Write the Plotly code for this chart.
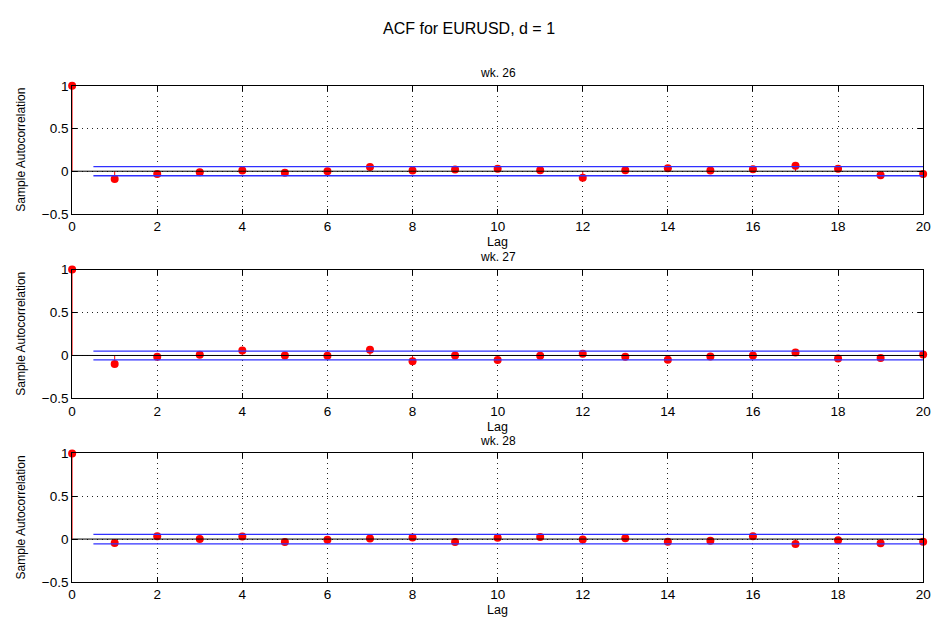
import plotly.graph_objects as go

W, H = 943, 628

lags = list(range(21))
titles = ["wk. 26", "wk. 27", "wk. 28"]
acf_wk26 = [1.0, -0.091, -0.034, -0.011, 0.008, -0.019, 0.0, 0.049, 0.008, 0.019,
            0.030, 0.011, -0.076, 0.011, 0.034, 0.008, 0.023, 0.065, 0.030, -0.046, -0.034]
acf_wk27 = [1.0, -0.099, -0.015, 0.008, 0.057, 0.0, -0.004, 0.068, -0.068, 0.0,
            -0.053, -0.004, 0.019, -0.015, -0.049, -0.011, 0.0, 0.034, -0.034, -0.030, 0.011]
acf_wk28 = [1.0, -0.046, 0.034, 0.0, 0.030, -0.034, -0.008, 0.008, 0.019, -0.034,
            0.015, 0.023, -0.004, 0.011, -0.030, -0.019, 0.034, -0.057, -0.015, -0.049, -0.030]
bounds = [0.053, 0.051, 0.055]
bound_x = [0.5, 20]
x_ticks = list(range(0, 21, 2))
y_ticks = [-0.5, 0, 0.5, 1]
y_ticktext = ["\u22120.5", "0", "0.5", "1"]

series = [acf_wk26, acf_wk27, acf_wk28]

# pixel layout of panels (top, bottom)
x_left, x_right = 69, 931
panels_px = [(80.7, 212.0), (269.0, 401.0), (457.3, 589.0)]

fig = go.Figure()
font_family = "Liberation Sans, Arial, Helvetica, sans-serif"

for i, (vals, b) in enumerate(zip(series, bounds)):
    ax = "" if i == 0 else str(i + 1)
    xr, yr = "x" + ax, "y" + ax
    # stems
    sx, sy = [], []
    for lag, v in zip(lags, vals):
        sx += [lag, lag, None]
        sy += [0, v, None]
    fig.add_trace(go.Scatter(x=sx, y=sy, mode="lines", line=dict(color="red", width=1),
                             xaxis=xr, yaxis=yr, showlegend=False, hoverinfo="skip"))
    fig.add_trace(go.Scatter(x=lags, y=vals, mode="markers",
                             marker=dict(color="red", size=8, line=dict(width=0)),
                             xaxis=xr, yaxis=yr, showlegend=False, cliponaxis=False))
    # baseline
    fig.add_trace(go.Scatter(x=[lags[0], lags[-1]], y=[0, 0], mode="lines",
                             line=dict(color="black", width=1),
                             xaxis=xr, yaxis=yr, showlegend=False, hoverinfo="skip"))
    # confidence bounds
    for s in (1, -1):
        fig.add_trace(go.Scatter(x=bound_x, y=[s * b, s * b], mode="lines",
                                 line=dict(color="#3030ff", width=1.3),
                                 xaxis=xr, yaxis=yr, showlegend=False, hoverinfo="skip"))

    top, bot = panels_px[i]
    common = dict(showline=True, linecolor="black", linewidth=1, mirror="ticks",
                  ticks="inside", ticklen=5, tickcolor="black",
                  showgrid=True, gridcolor="#222222", gridwidth=1, griddash="1px,4px",
                  zeroline=False, tickfont=dict(size=13.5, color="black", family=font_family))
    fig.layout["xaxis" + ax] = dict(common, domain=[x_left / W, x_right / W],
                                    range=[0, 20], tickvals=x_ticks, anchor=yr)
    fig.layout["yaxis" + ax] = dict(common, domain=[1 - bot / H, 1 - top / H],
                                    range=[-0.5, 1], tickvals=y_ticks, ticktext=y_ticktext,
                                    anchor=xr)

    cx = (x_left + x_right) / 2 / W
    fig.add_annotation(text=titles[i], x=cx, y=1 - (top - 13) / H, xref="paper", yref="paper",
                       showarrow=False, font=dict(size=12, color="black", family=font_family),
                       xanchor="center", yanchor="middle")
    fig.add_annotation(text="Lag", x=cx, y=1 - (bot + 20) / H, xref="paper", yref="paper",
                       showarrow=False, font=dict(size=12.5, color="black", family=font_family),
                       xanchor="center", yanchor="top")
    fig.add_annotation(text="Sample Autocorrelation", x=17 / W, y=1 - (top + bot) / 2 / H,
                       xref="paper", yref="paper", textangle=-90, showarrow=False,
                       font=dict(size=12, color="black", family=font_family),
                       xanchor="center", yanchor="middle")

fig.add_annotation(text="ACF for EURUSD, d = 1", x=471 / W, y=1 - 22 / H, xref="paper",
                   yref="paper", showarrow=False,
                   font=dict(size=16, color="black", family=font_family),
                   xanchor="center", yanchor="middle")

fig.update_layout(width=W, height=H, margin=dict(l=0, r=0, t=0, b=0),
                  paper_bgcolor="white", plot_bgcolor="white", showlegend=False)

fig.write_html("out.html", config={"displayModeBar": False},
               post_script="document.body.style.margin='0';document.body.style.overflow='hidden';")
